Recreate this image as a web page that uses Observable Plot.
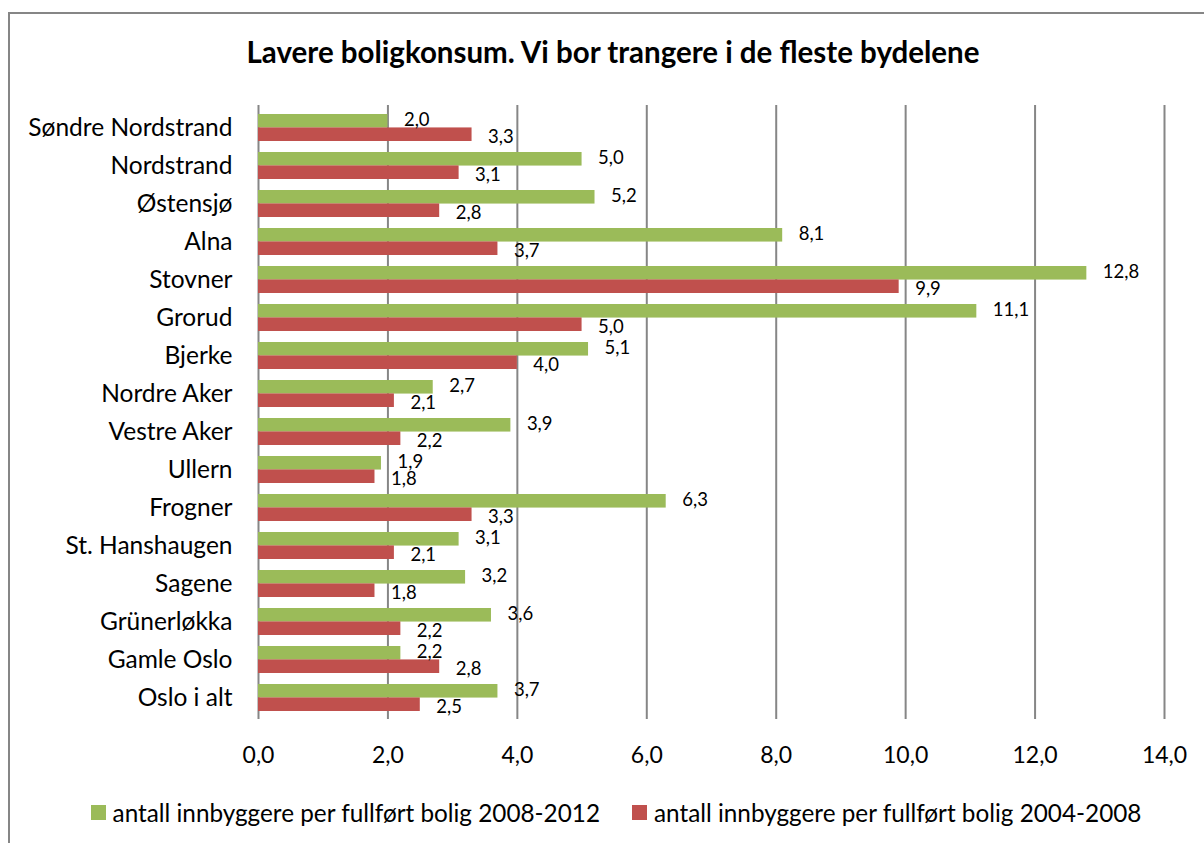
<!DOCTYPE html>
<html>
<head>
<meta charset="utf-8">
<script src="https://cdn.jsdelivr.net/npm/d3@7"></script>
<script src="https://cdn.jsdelivr.net/npm/@observablehq/plot@0.6"></script>
<style>
  html, body { margin: 0; padding: 0; background: #fff; }
  body { width: 1204px; height: 843px; position: relative; overflow: hidden; font-family: Lato, sans-serif; color: #000; }
  #frame { position: absolute; left: 8px; top: 12px; width: 1400px; height: 1000px; border-left: 2px solid #868686; border-top: 2px solid #868686; }
  #title { position: absolute; left: 0; top: 35px; width: 1226px; text-align: center; font-size: 29.5px; font-weight: bold; line-height: 34px; }
  #chart { position: absolute; left: 0; top: 0; }
  #legend { position: absolute; left: 0; top: 799px; width: 1232px; display: flex; justify-content: center; align-items: center; height: 26px; font-size: 24.3px; }
  .item { display: flex; align-items: center; }
  .sw { width: 15px; height: 15px; margin-right: 7px; }
  .item + .item { margin-left: 32px; }
</style>
</head>
<body>
<div id="frame"></div>
<div id="chart"></div>
<div id="title">Lavere boligkonsum. Vi bor trangere i de fleste bydelene</div>
<div id="legend"></div>
<script>
const categories = ["Søndre Nordstrand","Nordstrand","Østensjø","Alna","Stovner","Grorud","Bjerke","Nordre Aker","Vestre Aker","Ullern","Frogner","St. Hanshaugen","Sagene","Grünerløkka","Gamle Oslo","Oslo i alt"];
const series = ["antall innbyggere per fullført bolig 2008-2012", "antall innbyggere per fullført bolig 2004-2008"];
const values2008_2012 = [2.0,5.0,5.2,8.1,12.8,11.1,5.1,2.7,3.9,1.9,6.3,3.1,3.2,3.6,2.2,3.7];
const values2004_2008 = [3.3,3.1,2.8,3.7,9.9,5.0,4.0,2.1,2.2,1.8,3.3,2.1,1.8,2.2,2.8,2.5];
const xTicks = [0,2,4,6,8,10,12,14];
const colors = ["#9BBB59", "#C0504D"];

const fmt = d => d.toFixed(1).replace(".", ",");
const rowsA = categories.map((c, i) => ({category: c, value: values2008_2012[i]}));
const rowsB = categories.map((c, i) => ({category: c, value: values2004_2008[i]}));

const W = 1204, H = 780, mt = 105, mb = 61;
const step = (H - mt - mb) / categories.length;
const bw = step * 0.7;

const chart = Plot.plot({
  width: W, height: H,
  marginLeft: 258, marginRight: 40, marginTop: mt, marginBottom: mb,
  style: {fontFamily: "Lato, sans-serif", color: "#000", background: "transparent", overflow: "visible"},
  x: {domain: [0, 14], label: null},
  y: {domain: categories, paddingInner: 0.3, paddingOuter: 0.15, label: null},
  marks: [
    Plot.ruleX(xTicks, {stroke: "#868686", strokeWidth: 2}),
    Plot.barX(rowsA, {x: "value", y: "category", fill: colors[0], insetBottom: bw / 2}),
    Plot.barX(rowsB, {x: "value", y: "category", fill: colors[1], insetTop: bw / 2}),
    Plot.text(rowsA, {x: "value", y: "category", text: d => fmt(d.value), dx: 16, dy: -bw / 4 - 1, textAnchor: "start", fontSize: 18.5, fill: "#000"}),
    Plot.text(rowsB, {x: "value", y: "category", text: d => fmt(d.value), dx: 16, dy: bw / 4 + 2, textAnchor: "start", fontSize: 18.5, fill: "#000"}),
    Plot.axisX({ticks: xTicks, tickFormat: fmt, tickSize: 0, tickPadding: 27, fontSize: 23, label: null}),
    Plot.axisY({tickSize: 0, tickPadding: 26, fontSize: 24.5, label: null})
  ]
});
document.getElementById("chart").appendChild(chart);

const legend = document.getElementById("legend");
series.forEach((s, i) => {
  const item = document.createElement("div");
  item.className = "item";
  const sw = document.createElement("div");
  sw.className = "sw";
  sw.style.background = colors[i];
  const t = document.createElement("span");
  t.textContent = s;
  item.appendChild(sw);
  item.appendChild(t);
  legend.appendChild(item);
});
</script>
</body>
</html>
